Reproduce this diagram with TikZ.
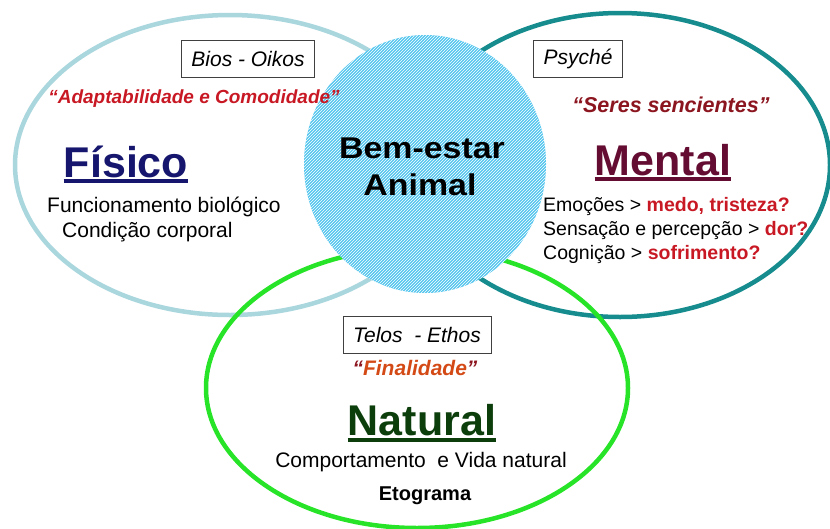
\documentclass[tikz,border=0pt]{standalone}
\usepackage{fontspec}
\setmainfont{Liberation Sans}
\usetikzlibrary{patterns}
\usepackage{graphicx}
\definecolor{fisring}{RGB}{170,214,222}
\definecolor{menring}{RGB}{22,140,142}
\definecolor{natring}{RGB}{40,228,40}
\definecolor{bemfill}{RGB}{84,198,238}
\definecolor{fiscol}{RGB}{22,22,110}
\definecolor{mencol}{RGB}{100,12,50}
\definecolor{natcol}{RGB}{12,62,12}
\definecolor{redA}{RGB}{200,24,36}
\definecolor{redB}{RGB}{140,22,32}
\definecolor{redC}{RGB}{212,74,22}

\begin{document}
\begin{tikzpicture}[x=1pt,y=-1pt,
  ring/.style={line width=4.5},
  tag/.style={draw=black!75, thin, minimum height=37, inner xsep=10, font=\fontsize{21}{24}\selectfont\itshape},
  quote/.style={anchor=base, inner sep=0, font=\fontsize{21}{24}\selectfont\bfseries\itshape},
  title/.style={anchor=base, inner sep=0, font=\fontsize{43}{46}\selectfont\bfseries},
  item/.style={anchor=base west, inner sep=0, font=\fontsize{19.5}{22}\selectfont},
  line/.style={anchor=base, inner sep=0, font=\fontsize{21}{24}\selectfont}]
\useasboundingbox (0,0) rectangle (830,528);
% the three rings
\draw[ring, fisring] (230,165) ellipse (215 and 150);
\draw[ring, menring] (620,165) ellipse (210 and 152);
\draw[ring, natring] (417,388) ellipse (211 and 140);
% centre
\fill[bemfill] (425,164) ellipse (121 and 129);
\fill[pattern=north east lines, pattern color=white] (425,164) ellipse (121 and 129);
\node[anchor=base, inner sep=0, font=\fontsize{30}{34}\selectfont\bfseries] (bemA) at (422,158) {\scalebox{1.13}[1]{Bem-estar}};
\node[anchor=base, inner sep=0, font=\fontsize{30}{34}\selectfont\bfseries] (bemB) at (420,195) {\scalebox{1.13}[1]{Animal}};

% Fisico
\node[tag] (fisbox) at (248,59) {Bios - Oikos};
\node[quote, redA, font=\fontsize{19}{22}\selectfont\bfseries\itshape] (fisq) at (194,103) {“Adaptabilidade e Comodidade”};
\node[title, fiscol] (fis) at (126,177) {Físico};
\draw[fiscol, line width=3.5] ([yshift=-4]fis.base west) -- ([yshift=-4]fis.base east);
\node[item, font=\fontsize{21}{24}\selectfont] (fisA) at (47,212) {Funcionamento biológico};
\node[item, font=\fontsize{21}{24}\selectfont] (fisB) at (62,237) {Condição corporal};

% Mental
\node[tag] (menbox) at (578,59) {Psyché};
\node[quote, redB, font=\fontsize{21.5}{24}\selectfont\bfseries\itshape] (menq) at (671,112) {“Seres sencientes”};
\node[title, mencol] (men) at (663,175) {Mental};
\draw[mencol, line width=3.5] ([yshift=-4]men.base west) -- ([yshift=-4]men.base east);
\node[item] (menA) at (543,211) {Emoções > \textcolor{redA}{\bfseries medo, tristeza?}};
\node[item] (menB) at (543,235) {Sensação e percepção > \textcolor{redA}{\bfseries dor?}};
\node[item] (menC) at (543,259) {Cognição > \textcolor{redA}{\bfseries sofrimento?}};

% Natural
\node[tag] (natbox) at (417,335) {Telos \ - Ethos};
\node[quote, redC] (natq) at (415,375) {\textcolor{redB}{“}Finalidade\textcolor{redB}{”}};
\node[title, natcol] (nat) at (422,435) {Natural};
\draw[natcol, line width=3.5] ([yshift=-5]nat.base west) -- ([yshift=-5]nat.base east);
\node[line] (natA) at (421,467) {Comportamento \ e Vida natural};
\node[line, font=\fontsize{20}{22}\selectfont\bfseries] (natB) at (425,500) {Etograma};
\end{tikzpicture}
\end{document}
